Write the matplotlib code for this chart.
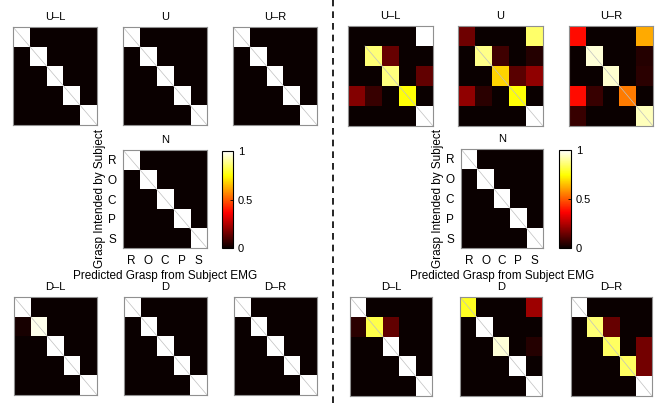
import matplotlib
matplotlib.use("Agg")
import matplotlib.pyplot as plt
import numpy as np
from matplotlib.lines import Line2D

plt.rcParams["font.family"] = ["Liberation Sans", "DejaVu Sans"]

GRASPS = ["R", "O", "C", "P", "S"]
EYE = np.eye(5)

# left half: every position classified perfectly except a trace in D-L
left_DL = [[1, 0, 0, 0, 0],
           [0.02, 0.98, 0, 0, 0],
           [0, 0, 1, 0, 0],
           [0, 0, 0, 1, 0],
           [0, 0, 0, 0, 1]]

# right half
right_UL = [[0, 0, 0, 0, 1],
            [0, 0.86, 0.14, 0, 0],
            [0, 0, 0.87, 0, 0.13],
            [0.18, 0.07, 0, 0.75, 0],
            [0, 0, 0, 0, 1]]
right_U = [[0.15, 0, 0, 0, 0.85],
           [0, 0.88, 0.08, 0, 0.04],
           [0, 0, 0.68, 0.12, 0.20],
           [0.20, 0.05, 0, 0.75, 0],
           [0, 0, 0, 0, 1]]
right_UR = [[0.38, 0, 0, 0, 0.62],
            [0, 0.96, 0, 0, 0.04],
            [0, 0, 0.95, 0, 0.05],
            [0.38, 0.07, 0, 0.55, 0],
            [0.07, 0, 0, 0, 0.93]]
right_DL = [[1, 0, 0, 0, 0],
            [0.05, 0.82, 0.13, 0, 0],
            [0, 0, 1, 0, 0],
            [0, 0, 0, 1, 0],
            [0, 0, 0, 0, 1]]
right_D = [[0.78, 0, 0, 0, 0.22],
           [0, 1, 0, 0, 0],
           [0, 0, 0.96, 0, 0.04],
           [0, 0, 0, 1, 0],
           [0, 0, 0, 0, 1]]
right_DR = [[1, 0, 0, 0, 0],
            [0, 0.86, 0.14, 0, 0],
            [0, 0, 0.84, 0, 0.16],
            [0, 0, 0, 0.84, 0.16],
            [0, 0, 0, 0, 1]]

halves = [
    {"U–L": EYE, "U": EYE, "U–R": EYE, "N": EYE,
     "D–L": left_DL, "D": EYE, "D–R": EYE},
    {"U–L": right_UL, "U": right_U, "U–R": right_UR, "N": EYE,
     "D–L": right_DL, "D": right_D, "D–R": right_DR},
]

W, H = 659, 403
fig = plt.figure(figsize=(W / 100, H / 100), dpi=100)


def px_axes(x0, y0, x1, y1):
    return fig.add_axes([x0 / W, 1 - y1 / H, (x1 - x0) / W, (y1 - y0) / H])


# pixel boxes (x0, y0, x1, y1) per panel, one layout per half
boxes = [
    {"U–L": (13, 27, 97, 125), "U": (123, 27, 207, 125), "U–R": (233, 27, 317, 125),
     "N": (123, 150, 207, 248),
     "D–L": (14, 297, 97, 395), "D": (124, 297, 207, 395), "D–R": (234, 297, 317, 395)},
    {"U–L": (348, 26, 433, 126), "U": (458, 26, 543, 126), "U–R": (569, 26, 653, 126),
     "N": (461, 149, 543, 248),
     "D–L": (350, 297, 432, 396), "D": (460, 297, 542, 396), "D–R": (571, 297, 652, 396)},
]
cbar_boxes = [(222, 151, 233, 248), (559, 150, 571, 248)]

for half, bx, cbx in zip(halves, boxes, cbar_boxes):
    for name, mat in half.items():
        mat = np.array(mat)
        ax = px_axes(*bx[name])
        im = ax.imshow(mat, cmap="hot", vmin=0, vmax=1,
                       aspect="auto", interpolation="nearest")
        # faint rendering seam, only visible on the bright diagonal cells
        for i in range(5):
            if mat[i, i] > 0.5:
                ax.plot([i - 0.5, i + 0.5], [i - 0.5, i + 0.5],
                        color="#c0c0c0", lw=0.5)
        ax.set_xlim(-0.5, 4.5); ax.set_ylim(4.5, -0.5)
        for s in ax.spines.values():
            s.set_color("#909090"); s.set_linewidth(0.8)
        ax.set_title(name, fontsize=8, pad=5)
        if name == "N":
            ax.set_xticks(range(5)); ax.set_xticklabels(GRASPS, fontsize=8.5)
            ax.set_yticks(range(5)); ax.set_yticklabels(GRASPS, fontsize=8.5)
            ax.tick_params(length=0, pad=5)
            ax.set_xlabel("Predicted Grasp from Subject EMG", fontsize=8.5, labelpad=2)
            ax.set_ylabel("Grasp Intended by Subject", fontsize=8.5, labelpad=1)
        else:
            ax.set_xticks([]); ax.set_yticks([])
    cax = px_axes(*cbx)
    cb = fig.colorbar(im, cax=cax, ticks=[0, 0.5, 1])
    cb.ax.set_yticklabels(["0", "0.5", "1"])
    cb.ax.tick_params(labelsize=8, direction="in", length=2, width=0.6)
    cb.outline.set_linewidth(0.8)

fig.add_artist(Line2D([333 / W, 333 / W], [0, 1], color="black",
                      lw=1.2, ls=(0, (4, 3))))

fig.savefig("out.png", dpi=100)
